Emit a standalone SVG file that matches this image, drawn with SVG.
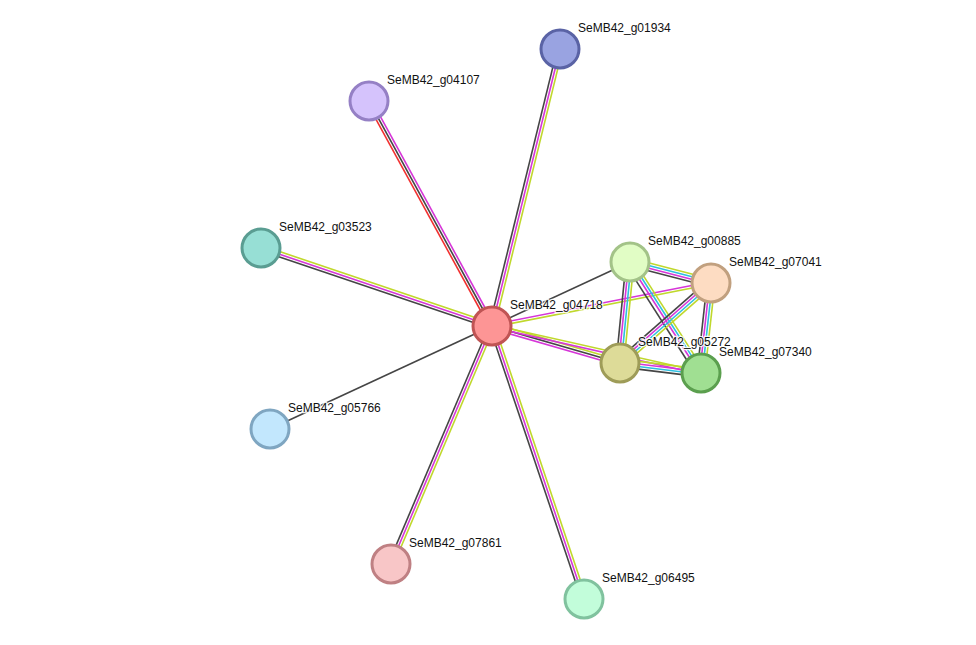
<svg xmlns="http://www.w3.org/2000/svg" width="976" height="645" viewBox="0 0 976 645">
<style>
line{stroke-width:1.6;fill:none}
.k{stroke:#454545}.m{stroke:#d636d8}.y{stroke:#c0d82c}.c{stroke:#2ebfe0}.r{stroke:#f23030}
circle{stroke-width:3}
text{font-family:"Liberation Sans",Arial,sans-serif;font-size:12px;fill:#111;stroke:#fff;stroke-width:2.5;stroke-opacity:0.85;paint-order:stroke}
</style>
<rect width="976" height="645" fill="#fff"/>
<g id="edges">
<g transform="translate(492,326) rotate(-76.21)"><line class="k" x1="0" y1="-2.6" x2="285.2" y2="-2.6"/><line class="m" x1="0" y1="0" x2="285.2" y2="0"/><line class="y" x1="0" y1="2.6" x2="285.2" y2="2.6"/></g>
<g transform="translate(492,326) rotate(-118.67)"><line class="r" x1="0" y1="-2.6" x2="256.4" y2="-2.6"/><line class="k" x1="0" y1="0" x2="256.4" y2="0"/><line class="m" x1="0" y1="2.6" x2="256.4" y2="2.6"/></g>
<g transform="translate(492,326) rotate(-161.34)"><line class="y" x1="0" y1="2.6" x2="243.8" y2="2.6"/><line class="m" x1="0" y1="0" x2="243.8" y2="0"/><line class="k" x1="0" y1="-2.6" x2="243.8" y2="-2.6"/></g>
<line class="k" x1="492" y1="326" x2="270" y2="429"/>
<g transform="translate(492,326) rotate(113.0)"><line class="k" x1="0" y1="2.6" x2="258.5" y2="2.6"/><line class="m" x1="0" y1="0" x2="258.5" y2="0"/><line class="y" x1="0" y1="-2.6" x2="258.5" y2="-2.6"/></g>
<g transform="translate(492,326) rotate(71.38)"><line class="k" x1="0" y1="2.6" x2="288.1" y2="2.6"/><line class="m" x1="0" y1="0" x2="288.1" y2="0"/><line class="y" x1="0" y1="-2.6" x2="288.1" y2="-2.6"/></g>
<line class="k" x1="492" y1="326" x2="630" y2="262"/>
<g transform="translate(492,326) rotate(-11.11)"><line class="m" x1="0" y1="-1.3" x2="223.2" y2="-1.3"/><line class="y" x1="0" y1="1.3" x2="223.2" y2="1.3"/></g>
<g transform="translate(492,326) rotate(16.12)"><line class="y" x1="0" y1="-2.6" x2="133.2" y2="-2.6"/><line class="k" x1="0" y1="0" x2="133.2" y2="0"/><line class="m" x1="0" y1="2.6" x2="133.2" y2="2.6"/></g>
<g transform="translate(492,326) rotate(12.67)"><line class="y" x1="0" y1="-1.3" x2="214.2" y2="-1.3"/><line class="m" x1="0" y1="1.3" x2="214.2" y2="1.3"/></g>
<g transform="translate(630,262) rotate(14.53)"><line class="y" x1="0" y1="-3.9" x2="83.7" y2="-3.9"/><line class="c" x1="0" y1="-1.3" x2="83.7" y2="-1.3"/><line class="m" x1="0" y1="1.3" x2="83.7" y2="1.3"/><line class="k" x1="0" y1="3.9" x2="83.7" y2="3.9"/></g>
<g transform="translate(630,262) rotate(95.65)"><line class="k" x1="0" y1="3.9" x2="101.5" y2="3.9"/><line class="m" x1="0" y1="1.3" x2="101.5" y2="1.3"/><line class="c" x1="0" y1="-1.3" x2="101.5" y2="-1.3"/><line class="y" x1="0" y1="-3.9" x2="101.5" y2="-3.9"/></g>
<g transform="translate(630,262) rotate(57.4)"><line class="k" x1="0" y1="5" x2="131.8" y2="5"/><line class="m" x1="0" y1="1.3" x2="131.8" y2="1.3"/><line class="c" x1="0" y1="-1.3" x2="131.8" y2="-1.3"/><line class="y" x1="0" y1="-3.9" x2="131.8" y2="-3.9"/></g>
<g transform="translate(711,283) rotate(138.68)"><line class="k" x1="0" y1="3.9" x2="121.2" y2="3.9"/><line class="m" x1="0" y1="1.3" x2="121.2" y2="1.3"/><line class="c" x1="0" y1="-1.3" x2="121.2" y2="-1.3"/><line class="y" x1="0" y1="-3.9" x2="121.2" y2="-3.9"/></g>
<g transform="translate(711,283) rotate(96.34)"><line class="k" x1="0" y1="3.9" x2="90.6" y2="3.9"/><line class="m" x1="0" y1="1.3" x2="90.6" y2="1.3"/><line class="c" x1="0" y1="-1.3" x2="90.6" y2="-1.3"/><line class="y" x1="0" y1="-3.9" x2="90.6" y2="-3.9"/></g>
<g transform="translate(620,363) rotate(7.04)"><line class="y" x1="0" y1="-3.9" x2="81.6" y2="-3.9"/><line class="m" x1="0" y1="-1.3" x2="81.6" y2="-1.3"/><line class="c" x1="0" y1="1.3" x2="81.6" y2="1.3"/><line class="k" x1="0" y1="3.9" x2="81.6" y2="3.9"/></g>
</g>
<g id="g01934"><circle cx="560" cy="49" r="19" fill="#99a3e1" stroke="#5a63a5"/><text x="578" y="32">SeMB42_g01934</text></g>
<g id="g04107"><circle cx="369" cy="101" r="19" fill="#d5c3fc" stroke="#9580c5"/><text x="387" y="84">SeMB42_g04107</text></g>
<g id="g03523"><circle cx="261" cy="248" r="19" fill="#97dfd5" stroke="#5a9d92"/><text x="279" y="231">SeMB42_g03523</text></g>
<g id="g04718"><circle cx="492" cy="326" r="19" fill="#fd9595" stroke="#c05454"/><text x="510" y="309">SeMB42_g04718</text></g>
<g id="g05766"><circle cx="270" cy="429" r="19" fill="#c2e7fd" stroke="#7fa6c1"/><text x="288" y="412">SeMB42_g05766</text></g>
<g id="g07861"><circle cx="391" cy="564" r="19" fill="#f8c6c7" stroke="#bf8083"/><text x="409" y="547">SeMB42_g07861</text></g>
<g id="g06495"><circle cx="584" cy="599" r="19" fill="#c2fdda" stroke="#80c29e"/><text x="602" y="582">SeMB42_g06495</text></g>
<g id="g00885"><circle cx="630" cy="262" r="19" fill="#e1fdc5" stroke="#a3c388"/><text x="648" y="245">SeMB42_g00885</text></g>
<g id="g07041"><circle cx="711" cy="283" r="19" fill="#fddcc2" stroke="#c1a07f"/><text x="729" y="266">SeMB42_g07041</text></g>
<g id="g05272"><circle cx="620" cy="363" r="19" fill="#dddb98" stroke="#9e9c58"/><text x="638" y="346">SeMB42_g05272</text></g>
<g id="g07340"><circle cx="701" cy="373" r="19" fill="#a0df92" stroke="#5b9f4e"/><text x="719" y="356">SeMB42_g07340</text></g>
</svg>
